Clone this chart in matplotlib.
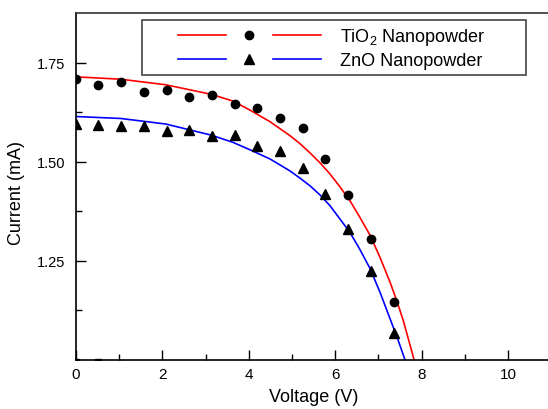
import matplotlib
matplotlib.use("Agg")
import matplotlib.pyplot as plt
from matplotlib.lines import Line2D
from matplotlib.legend_handler import HandlerTuple
from matplotlib.patches import Rectangle
from matplotlib.ticker import MultipleLocator, FixedLocator

plt.rcParams['font.family'] = ['Liberation Sans', 'DejaVu Sans']

# measured points (V, mA)
volt = [0, 0.52, 1.05, 1.57, 2.10, 2.62, 3.15, 3.67, 4.20, 4.72, 5.25, 5.77, 6.30, 6.82, 7.35]
tio2 = [1.708, 1.694, 1.700, 1.675, 1.680, 1.663, 1.668, 1.645, 1.635, 1.610,
        1.584, 1.508, 1.417, 1.306, 1.146]
zno = [1.595, 1.593, 1.590, 1.590, 1.578, 1.580, 1.564, 1.568, 1.540, 1.528,
       1.483, 1.418, 1.331, 1.225, 1.068]

# fitted curves
fit_v_tio2 = [0, 1.04, 2.08, 3.13, 3.63, 4.03, 4.49, 4.95, 5.18, 5.42, 5.65, 5.88,
              6.10, 6.34, 6.57, 6.81, 7.04, 7.27, 7.43, 7.58, 7.83]
fit_i_tio2 = [1.714, 1.708, 1.694, 1.670, 1.653, 1.630, 1.601, 1.566, 1.546, 1.522,
              1.497, 1.469, 1.438, 1.402, 1.360, 1.314, 1.258, 1.196, 1.148, 1.098,
              0.999]
fit_v_zno = [0, 1.04, 2.08, 3.13, 3.63, 4.03, 4.49, 4.95, 5.18, 5.42, 5.65, 5.88,
             6.10, 6.34, 6.57, 6.81, 7.04, 7.27, 7.45, 7.62]
fit_i_zno = [1.614, 1.609, 1.595, 1.567, 1.549, 1.530, 1.507, 1.477, 1.459, 1.439,
             1.416, 1.389, 1.357, 1.322, 1.279, 1.230, 1.170, 1.104, 1.052, 0.999]

# stray points sitting on the bottom axis
dark_v = [0, 0.52, 1.05]
dark_i = [0.995, 0.995, 0.990]

fig = plt.figure(figsize=(5.48, 4.10), dpi=100)
ax = fig.add_axes([76 / 548, 1 - 361 / 410, 475.2 / 548, 347 / 410])

ax.plot(fit_v_tio2, fit_i_tio2, color='#ff0000', lw=1.2)
ax.plot(fit_v_zno, fit_i_zno, color='#0000ff', lw=1.2)
ax.plot(volt, tio2, 'o', color='k', ms=6)
ax.plot(volt, zno, '^', color='k', ms=7)
ax.plot(dark_v, dark_i, 's', color='k', ms=5)

ax.set_xlim(0, 11)
ax.set_ylim(1.0, 1.875)
ax.xaxis.set_major_locator(MultipleLocator(2))
ax.xaxis.set_minor_locator(MultipleLocator(1))
ax.yaxis.set_major_locator(FixedLocator([1.25, 1.5, 1.75]))
ax.yaxis.set_minor_locator(FixedLocator([1.125, 1.375, 1.625]))
ax.tick_params(which='both', direction='in', top=False, right=False, width=1)
ax.tick_params(which='major', length=7)
ax.tick_params(which='minor', length=4)
ax.tick_params(axis='y', pad=8, labelsize=10.5)
ax.tick_params(axis='x', pad=5, labelsize=11)
ax.spines['right'].set_visible(False)
ax.spines['top'].set_color('#333333')
for s in ax.spines.values():
    s.set_linewidth(1.2)

ax.set_xlabel('Voltage (V)', fontsize=13, labelpad=5)
ax.set_ylabel('Current (mA)', fontsize=13)
ax.yaxis.set_label_coords(-0.108, 0.484)

# legend: line - marker - line
red = Line2D([], [], color='#ff0000', lw=1.2)
blue = Line2D([], [], color='#0000ff', lw=1.2)
circ = Line2D([], [], ls='none', marker='o', color='k', ms=6)
tri = Line2D([], [], ls='none', marker='^', color='k', ms=7)
fig.legend([(red, circ, red), (blue, tri, blue)],
           [r'TiO$_\mathregular{2}$ Nanopowder', 'ZnO Nanopowder'],
           handler_map={tuple: HandlerTuple(ndivide=3, pad=0)},
           loc='upper left', bbox_to_anchor=(178 / 548, 1 - 27.5 / 410),
           frameon=False, fontsize=13, handlelength=7.9, handletextpad=1.05,
           labelspacing=0.25, borderpad=0, borderaxespad=0)
fig.patches.append(Rectangle((141.7 / 548, 1 - 76 / 410), 384 / 548, 55.3 / 410,
                             transform=fig.transFigure, fill=False,
                             edgecolor='#444444', lw=1.2))

fig.savefig('out.png', dpi=100)
